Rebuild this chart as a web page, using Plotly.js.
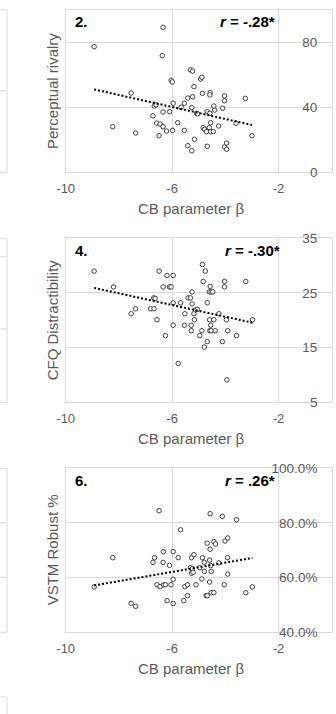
<!DOCTYPE html>
<html>
<head>
<meta charset="utf-8">
<script src="https://cdn.plot.ly/plotly-3.0.1.min.js"></script>
<style>
  html, body { margin: 0; padding: 0; background: #ffffff; }
  #chart { width: 336px; height: 714px; }
</style>
</head>
<body>
<div id="chart"></div>
<script>
// CB parameter beta against three outcome measures
var beta1 = [-8.93, -6.34, -6.37, -7.54, -8.23, -7.37, -5.31, -5.23, -6.04, -5.99, -4.93, -4.88,
  -5.18, -5.41, -5.23, -4.86, -4.57, -4.58, -4.03, -4.03, -3.25, -5.54, -5.66, -5.96, -6.67, -6.60,
  -6.34, -6.09, -6.72, -6.58, -6.45, -6.34, -6.21, -5.98, -5.79, -6.49, -5.54, -5.26, -5.08, -5.04,
  -4.68, -4.58, -4.40, -4.10, -4.43, -4.55, -4.83, -4.78, -4.71, -4.60, -4.55, -4.45, -4.25, -3.60,
  -3.00, -5.16, -5.41, -5.26, -4.68, -4.03, -3.95, -3.95];
var rivalry = [77.3, 89.2, 71.8, 48.8, 28.1, 24.2, 63.0, 62.3, 56.6, 55.6, 57.4, 58.5,
  52.7, 45.7, 46.5, 48.6, 49.0, 47.6, 47.0, 44.0, 45.5, 42.5, 40.0, 42.5, 40.8, 41.5,
  37.1, 37.3, 34.8, 30.3, 29.7, 28.1, 25.4, 25.8, 30.5, 22.5, 25.8, 39.8, 36.3, 36.0,
  37.3, 36.3, 38.3, 39.4, 40.8, 30.5, 27.5, 26.5, 25.0, 27.5, 25.0, 25.0, 28.5, 30.2,
  22.5, 20.3, 16.4, 13.3, 16.0, 15.6, 14.2, 18.0];

var beta2 = [-8.93, -8.20, -7.54, -7.37, -6.49, -6.19, -5.96, -6.34, -6.10, -6.04, -6.69, -6.64,
  -6.81, -6.68, -6.57, -6.25, -5.96, -5.68, -5.96, -5.77, -5.54, -5.52, -5.40, -5.31, -5.25, -5.25,
  -5.18, -5.12, -5.16, -5.28, -5.28, -4.96, -4.86, -4.75, -4.83, -4.57, -4.60, -4.53, -4.47, -4.68,
  -4.88, -4.68, -4.79, -4.59, -4.43, -4.55, -4.58, -4.53, -4.38, -4.24, -4.11, -4.03, -4.03, -3.96,
  -3.91, -3.58, -3.23, -2.98, -3.94, -5.05];
var cfq = [29.0, 26.1, 21.2, 22.1, 29.0, 28.2, 28.2, 26.1, 26.1, 26.1, 24.1, 24.0,
  22.1, 22.1, 20.1, 17.2, 23.2, 23.2, 19.1, 12.1, 19.1, 21.2, 24.1, 24.1, 25.2, 23.0,
  21.2, 21.9, 20.1, 19.1, 18.1, 17.2, 30.2, 29.0, 27.1, 26.2, 25.2, 25.2, 25.2, 23.2,
  18.1, 16.1, 15.1, 20.1, 20.1, 19.1, 18.1, 18.1, 18.1, 21.2, 16.1, 27.1, 26.1, 20.1,
  18.1, 17.2, 27.1, 20.1, 9.1, 22.0];

var beta3 = [-8.93, -8.23, -7.54, -7.37, -6.49, -6.66, -6.72, -6.33, -6.34, -5.96, -6.10, -6.57,
  -6.45, -6.32, -6.25, -6.04, -5.96, -6.19, -5.96, -5.68, -5.77, -5.52, -5.42, -5.42, -5.56, -5.27,
  -5.18, -5.31, -5.24, -5.27, -5.10, -4.86, -4.79, -4.79, -4.96, -4.88, -4.59, -4.68, -4.43, -4.37,
  -4.57, -4.57, -4.59, -4.55, -4.53, -4.24, -4.11, -4.01, -3.91, -3.92, -3.91, -4.04, -3.58, -4.72,
  -4.68, -4.53, -4.43, -3.23, -2.98, -5.21];
var vstmPct = [56.6, 67.3, 50.6, 49.5, 84.5, 67.3, 65.6, 69.5, 65.6, 69.5, 64.5, 57.4,
  56.7, 57.4, 57.4, 57.4, 59.4, 51.6, 50.5, 77.5, 67.3, 56.7, 57.4, 53.4, 51.6, 67.3,
  68.4, 63.6, 63.3, 61.6, 57.4, 67.3, 65.6, 62.3, 63.6, 59.5, 58.4, 72.6, 73.2, 72.3,
  70.4, 83.4, 66.4, 64.4, 62.3, 65.4, 82.4, 73.4, 74.5, 67.3, 61.3, 57.4, 81.2, 53.4,
  53.4, 54.5, 54.5, 54.5, 56.6, 62.0];

var xTickVals = [-10, -6, -2];
var xTickText = ['-10', '-6', '-2'];
var panelLabels = ['2.', '4.', '6.'];
var rLabels = ['-.28*', '-.30*', '.26*'];
var yTitles = ['Perceptual rivalry', 'CFQ Distractibility', 'VSTM Robust %'];
var xTitle = 'CB parameter \u03b2';

var panels = [
  {x: beta1, y: rivalry},
  {x: beta2, y: cfq},
  {x: beta3, y: vstmPct}
];

// ordinary least squares fit, drawn across the observed beta range
function fitLine(xs, ys) {
  var n = xs.length, mx = 0, my = 0, sxx = 0, sxy = 0;
  for (var i = 0; i < n; i++) { mx += xs[i]; my += ys[i]; }
  mx /= n; my /= n;
  for (var j = 0; j < n; j++) {
    sxx += (xs[j] - mx) * (xs[j] - mx);
    sxy += (xs[j] - mx) * (ys[j] - my);
  }
  var b = sxy / sxx, a = my - b * mx;
  var lo = Math.min.apply(null, xs), hi = Math.max.apply(null, xs);
  return {x: [lo, hi], y: [a + b * lo, a + b * hi]};
}

var W = 336, H = 714;
function px(v) { return v / W; }
function py(v) { return (H - v) / H; }

// plot-area boxes in pixels: left, right, top, bottom
var boxes = [
  {l: 65.7, r: 331.7, t: 9.8, b: 172.3},
  {l: 65.7, r: 331.7, t: 238.3, b: 402.3},
  {l: 65.7, r: 331.7, t: 468.3, b: 632.3}
];
// gridlines of the neighbouring panels at the left edge (pixel rows)
var sideGrid = [[90.7], [256.7, 329], [522.7, 577.3]];

var grey = '#595959';
var gridC = '#d9d9d9';
var fontFam = '"Liberation Sans", Arial, sans-serif';

var traces = [];
var annotations = [];
var layout = {
  width: W, height: H,
  margin: {l: 0, r: 0, t: 0, b: 0},
  paper_bgcolor: '#ffffff',
  plot_bgcolor: '#ffffff',
  showlegend: false,
  font: {family: fontFam, color: grey, size: 13},
  shapes: []
};

var yRanges = [[0, 100], [5, 35], [40, 100]];
var yTick0 = [0, 5, 40];
var yDtick = [40, 10, 20];
var yFormat = ['d', 'd', '.1f'];
var ySuffix = ['', '', '%'];
var rX = [218.3, 222.7, 222.7];

panels.forEach(function (p, k) {
  var sfx = k === 0 ? '' : String(k + 1);
  var xa = 'x' + sfx, ya = 'y' + sfx;
  var box = boxes[k];

  traces.push({
    type: 'scatter', mode: 'markers',
    x: p.x, y: p.y, xaxis: xa, yaxis: ya,
    marker: {symbol: 'circle', size: 4.5, color: '#ffffff',
             line: {color: '#2b2b2b', width: 0.9}},
    hoverinfo: 'x+y'
  });
  var f = fitLine(p.x, p.y);
  traces.push({
    type: 'scatter', mode: 'lines',
    x: f.x, y: f.y, xaxis: xa, yaxis: ya,
    line: {color: '#000000', width: 2, dash: '2px,2px'},
    hoverinfo: 'skip'
  });

  layout['xaxis' + sfx] = {
    domain: [px(box.l), px(box.r)],
    anchor: ya,
    range: [-10, 0],
    tickmode: 'array', tickvals: xTickVals, ticktext: xTickText,
    ticklabelstandoff: 4,
    showgrid: true, gridcolor: gridC, gridwidth: 1,
    zeroline: false,
    showline: true, linecolor: gridC, linewidth: 1, mirror: true,
    ticks: '',
    tickfont: {family: fontFam, size: 13, color: grey},
    fixedrange: true
  };
  layout['yaxis' + sfx] = {
    domain: [py(box.b), py(box.t)],
    anchor: xa,
    side: 'right',
    range: yRanges[k],
    tick0: yTick0[k], dtick: yDtick[k],
    tickformat: yFormat[k], ticksuffix: ySuffix[k],
    ticklabelposition: 'inside',
    ticklabeloverflow: 'allow',
    ticklabelstandoff: 14,
    showgrid: true, gridcolor: gridC, gridwidth: 1,
    zeroline: false,
    showline: true, linecolor: gridC, linewidth: 1, mirror: true,
    ticks: '',
    tickfont: {family: fontFam, size: 13.5, color: grey},
    fixedrange: true
  };

  var cy = (box.t + box.b) / 2;
  annotations.push({
    xref: 'paper', yref: 'paper', x: px(52), y: py(cy),
    text: yTitles[k], textangle: -90, showarrow: false,
    xanchor: 'center', yanchor: 'middle',
    font: {family: fontFam, size: 15, color: grey}
  });
  annotations.push({
    xref: 'paper', yref: 'paper', x: px(191.3), y: py(box.b + 36),
    text: xTitle, showarrow: false,
    xanchor: 'center', yanchor: 'middle',
    font: {family: fontFam, size: 15, color: grey}
  });
  annotations.push({
    xref: 'paper', yref: 'paper', x: px(73), y: py(box.t + 12),
    text: '<b>' + panelLabels[k] + '</b>', showarrow: false,
    xanchor: 'left', yanchor: 'middle',
    font: {family: fontFam, size: 15, color: '#000000'}
  });
  annotations.push({
    xref: 'paper', yref: 'paper', x: px(rX[k]), y: py(box.t + 12),
    text: '<b><i>r</i> = ' + rLabels[k] + '</b>', showarrow: false,
    xanchor: 'left', yanchor: 'middle',
    font: {family: fontFam, size: 15, color: '#000000'}
  });

  // right edge of the neighbouring panel on the left
  layout.shapes.push({
    type: 'rect', xref: 'paper', yref: 'paper',
    x0: px(-20), x1: px(7), y0: py(box.b), y1: py(box.t),
    line: {color: gridC, width: 1}, fillcolor: 'rgba(0,0,0,0)'
  });
  sideGrid[k].forEach(function (gy) {
    layout.shapes.push({
      type: 'line', xref: 'paper', yref: 'paper',
      x0: px(-20), x1: px(7), y0: py(gy), y1: py(gy),
      line: {color: gridC, width: 1}
    });
  });
});

// top corner of the next row's panel on the left
layout.shapes.push({
  type: 'rect', xref: 'paper', yref: 'paper',
  x0: px(-20), x1: px(7), y0: py(730), y1: py(697),
  line: {color: gridC, width: 1}, fillcolor: 'rgba(0,0,0,0)'
});

layout.annotations = annotations;

Plotly.newPlot('chart', traces, layout, {staticPlot: true, displayModeBar: false});
</script>
</body>
</html>
